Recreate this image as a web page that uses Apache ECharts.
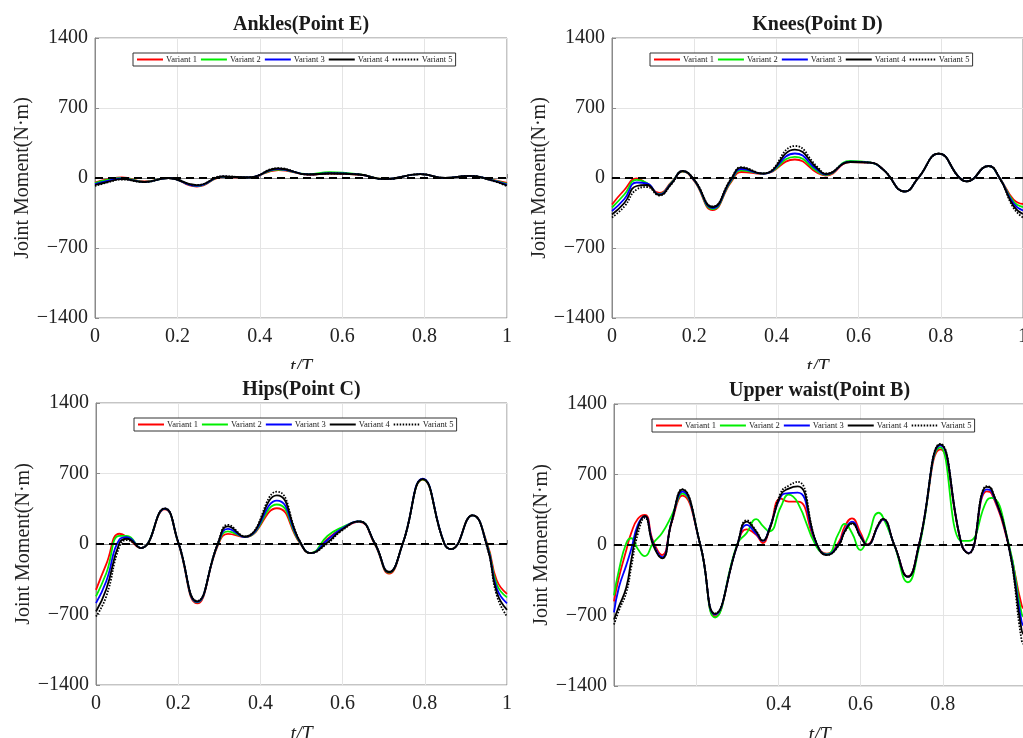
<!DOCTYPE html>
<html>
<head>
<meta charset="utf-8">
<script src="https://cdn.jsdelivr.net/npm/echarts@6/dist/echarts.min.js"></script>
<style>
  html, body { margin: 0; padding: 0; background: #fff; }
  #chart { width: 1023px; height: 738px; }
</style>
</head>
<body>
<div id="chart"></div>
<script>
// tick values shared by all panels
const yTicks = [-1400, -700, 0, 700, 1400]
const xTicks = [0, 0.2, 0.4, 0.6, 0.8, 1]
const variantNames = ['Variant 1', 'Variant 2', 'Variant 3', 'Variant 4', 'Variant 5']
const panelTitles = ['Ankles(Point E)', 'Knees(Point D)', 'Hips(Point C)', 'Upper waist(Point B)']

// Ankles (Point E)
const tAnkle = [0, 0.03, 0.065, 0.12, 0.178, 0.247, 0.311, 0.372, 0.445, 0.518, 0.57, 0.64, 0.704, 0.79, 0.85, 0.91, 0.96, 1]
const ankleV1 = [-45, -15, 5, -35, 0, -85, 10, 5, 80, 35, 45, 35, -12, 38, 0, 22, -15, -50]
const ankleV2 = [-50, -20, 2, -38, 0, -80, 12, 5, 85, 38, 58, 38, -12, 38, 0, 22, -16, -58]
const ankleV3 = [-60, -30, -5, -40, 0, -78, 13, 5, 90, 36, 48, 36, -12, 38, 0, 22, -18, -65]
const ankleV4 = [-70, -40, -12, -40, 0, -72, 15, 5, 95, 35, 45, 35, -12, 38, 0, 22, -20, -75]
const ankleV5 = [-80, -45, -15, -40, 0, -70, 18, 5, 98, 35, 45, 35, -12, 38, 0, 22, -22, -82]

// Knees (Point D)
const tKnee = [0, 0.03, 0.06, 0.085, 0.115, 0.145, 0.172, 0.2, 0.245, 0.29, 0.315, 0.367, 0.445, 0.5, 0.52, 0.58, 0.628, 0.66, 0.713, 0.745, 0.795, 0.846, 0.863, 0.916, 0.943, 0.977, 1]
const kneeV1 = [-265, -120, -5, -60, -150, -40, 65, -30, -320, -40, 60, 43, 185, 50, 25, 160, 153, 84, -135, 0, 243, 0, -33, 120, 0, -215, -260]
const kneeV2 = [-295, -165, -18, -50, -160, -45, 67, -25, -310, -30, 77, 43, 212, 65, 30, 172, 155, 84, -135, 0, 243, 0, -33, 120, 0, -235, -290]
const kneeV3 = [-330, -210, -45, -55, -165, -50, 68, -22, -300, -20, 90, 43, 245, 80, 35, 163, 153, 84, -135, 0, 243, 0, -33, 120, 0, -255, -325]
const kneeV4 = [-365, -250, -80, -70, -170, -55, 70, -18, -290, -10, 103, 43, 283, 95, 40, 160, 153, 84, -135, 0, 243, 0, -33, 120, 0, -280, -360]
const kneeV5 = [-395, -285, -115, -90, -175, -60, 70, -15, -285, -5, 108, 45, 320, 110, 45, 160, 153, 84, -135, 0, 243, 0, -33, 120, 0, -300, -395]

// Hips (Point C)
const tHip = [0, 0.025, 0.057, 0.075, 0.109, 0.167, 0.2, 0.246, 0.297, 0.321, 0.362, 0.44, 0.496, 0.522, 0.563, 0.596, 0.64, 0.678, 0.713, 0.746, 0.795, 0.848, 0.864, 0.916, 0.952, 0.975, 1]
const hipV1 = [-455, -200, 102, 70, -40, 345, 10, -590, -10, 100, 70, 355, 10, -90, 50, 145, 220, 0, -295, 0, 640, 0, -50, 285, 0, -360, -495]
const hipV2 = [-520, -290, 80, 80, -40, 348, 15, -580, 0, 125, 70, 392, 15, -90, 80, 160, 225, 5, -285, 0, 643, 0, -50, 285, -10, -400, -530]
const hipV3 = [-587, -370, 45, 68, -40, 350, 18, -575, 5, 150, 70, 430, 20, -90, 40, 145, 225, 8, -280, 0, 650, 0, -50, 285, -20, -440, -590]
const hipV4 = [-670, -450, 10, 52, -40, 352, 20, -570, 10, 175, 72, 483, 25, -90, 15, 135, 225, 10, -278, 0, 645, 0, -50, 285, -30, -480, -655]
const hipV5 = [-720, -520, -25, 38, -38, 355, 22, -565, 15, 190, 75, 520, 30, -88, 5, 125, 225, 10, -275, 0, 645, 0, -50, 285, -40, -510, -720]

// Upper waist (Point B)
const tWaist = [0, 0.012, 0.03, 0.042, 0.058, 0.075, 0.095, 0.117, 0.14, 0.166, 0.21, 0.246, 0.3, 0.323, 0.346, 0.362, 0.378, 0.406, 0.425, 0.447, 0.493, 0.518, 0.547, 0.561, 0.579, 0.6, 0.616, 0.644, 0.654, 0.682, 0.715, 0.742, 0.794, 0.846, 0.863, 0.907, 0.919, 0.96, 0.992, 1]
const waistV1 = [-560, -320, -50, 120, 260, 300, 40, -100, 220, 490, 0, -710, 0, 155, 100, 20, 150, 460, 430, 430, 0, -85, 30, 180, 265, 120, 5, 200, 250, 0, -310, 0, 950, 0, -80, 533, 510, 0, -600, -640]
const waistV2 = [-500, -250, 20, 67, -40, -110, 17, 120, 290, 510, 0, -720, 10, 120, 257, 190, 135, 380, 500, 420, -20, -90, 120, 210, 120, -50, 60, 320, 280, 0, -370, -30, 970, 40, 40, 440, 467, 20, -685, -720]
const waistV3 = [-670, -420, -200, -40, 200, 285, 20, -120, 230, 530, 0, -690, 0, 200, 110, 40, 165, 480, 515, 520, 10, -95, 10, 140, 233, 90, 0, 200, 255, 0, -315, 0, 990, 0, -80, 553, 530, 0, -767, -810]
const waistV4 = [-740, -610, -420, -150, 170, 290, 0, -133, 230, 550, 0, -683, 0, 233, 133, 43, 150, 500, 560, 583, 15, -100, 0, 130, 217, 80, 0, 210, 260, 0, -317, 0, 1000, 0, -83, 577, 550, 0, -850, -900]
const waistV5 = [-790, -650, -470, -220, 110, 270, 20, -130, 220, 555, 5, -680, 5, 245, 140, 45, 160, 520, 590, 627, 20, -100, -5, 125, 210, 80, 0, 210, 260, 0, -315, 0, 1005, 0, -85, 585, 555, -10, -950, -1000]

const panels = [
  { t: tAnkle, ys: [ankleV1, ankleV2, ankleV3, ankleV4, ankleV5] },
  { t: tKnee, ys: [kneeV1, kneeV2, kneeV3, kneeV4, kneeV5] },
  { t: tHip, ys: [hipV1, hipV2, hipV3, hipV4, hipV5] },
  { t: tWaist, ys: [waistV1, waistV2, waistV3, waistV4, waistV5] }
]

const FONT = 'Liberation Serif'
const variantStyles = [
  { color: '#ff0000', type: 'solid', width: 1.8 },
  { color: '#00ee00', type: 'solid', width: 1.8 },
  { color: '#0000ff', type: 'solid', width: 1.8 },
  { color: '#000000', type: 'solid', width: 1.8 },
  { color: '#000000', type: [1.5, 1.5], width: 1.8 }
]

// plot rectangles of the four panels
const grids = [
  { left: 95, top: 38, width: 412, height: 280 },
  { left: 612, top: 38, width: 411, height: 280 },
  { left: 96, top: 403, width: 411, height: 282 },
  { left: 614, top: 404, width: 411, height: 282 }
]

const fmtY = (v) => (v < 0 ? '\u2212' + Math.abs(v) : String(v))

const option = {
  animation: false,
  backgroundColor: '#fff',
  textStyle: { fontFamily: FONT },
  title: grids.map((g, i) => ({
    text: panelTitles[i],
    left: g.left + g.width / 2,
    top: g.top - 23,
    textAlign: 'center',
    padding: 0,
    textStyle: { fontFamily: FONT, fontSize: 20, fontWeight: 'bold', color: '#1a1a1a' }
  })),
  legend: grids.map((g) => ({
    data: variantNames,
    left: g.left + 38,
    top: g.top + 15,
    orient: 'horizontal',
    selectedMode: false,
    itemWidth: 26,
    itemHeight: 8,
    itemGap: 3,
    padding: [2, 3],
    borderColor: '#333',
    borderWidth: 1,
    backgroundColor: '#fff',
    itemStyle: { opacity: 0 },
    textStyle: { fontFamily: FONT, fontSize: 8.5, color: '#222', padding: [0, 0, 0, -2] }
  })),
  grid: grids.map((g) => ({
    left: g.left,
    top: g.top,
    width: g.width,
    height: g.height,
    outerBoundsMode: 'none',
    show: true,
    borderColor: '#8a8a8a',
    borderWidth: 1,
    backgroundColor: 'transparent'
  })),
  xAxis: grids.map((g, i) => ({
    type: 'value',
    gridIndex: i,
    min: xTicks[0],
    max: xTicks[xTicks.length - 1],
    interval: xTicks[1] - xTicks[0],
    name: 't/T',
    nameLocation: 'middle',
    nameGap: 40,
    nameTextStyle: { fontFamily: FONT, fontSize: 20, fontStyle: 'italic', color: '#222' },
    axisLine: { show: true, lineStyle: { color: '#8a8a8a' } },
    axisTick: { show: true, inside: true, length: 4, lineStyle: { color: '#8a8a8a' } },
    splitLine: { show: true, lineStyle: { color: '#e4e4e4' } },
    axisLabel: {
      margin: 9,
      fontFamily: FONT,
      fontSize: 20,
      color: '#222',
      showMaxLabel: true,
      formatter: (v) => (i === 3 && (v < 0.3 || v > 0.9) ? '' : String(v))
    }
  })),
  yAxis: grids.map((g, i) => ({
    type: 'value',
    gridIndex: i,
    min: yTicks[0],
    max: yTicks[yTicks.length - 1],
    interval: yTicks[1] - yTicks[0],
    name: 'Joint Moment(N\u00b7m)',
    nameLocation: 'middle',
    nameGap: 58,
    nameTextStyle: { fontFamily: FONT, fontSize: 20, color: '#222' },
    axisLine: { show: true, lineStyle: { color: '#8a8a8a' } },
    axisTick: { show: true, inside: true, length: 4, lineStyle: { color: '#8a8a8a' } },
    splitLine: { show: true, lineStyle: { color: '#e4e4e4' } },
    axisLabel: { margin: 7, fontFamily: FONT, fontSize: 20, color: '#222', formatter: fmtY }
  })),
  graphic: [
    // the lower row covers the foot of the upper row's axis names
    { type: 'rect', z: 100, shape: { x: 0, y: 369, width: 1023, height: 10 }, style: { fill: '#fff' } }
  ],
  series: []
}

panels.forEach((p, gi) => {
  p.ys.forEach((ys, vi) => {
    const s = {
      name: variantNames[vi],
      type: 'line',
      xAxisIndex: gi,
      yAxisIndex: gi,
      data: p.t.map((x, k) => [x, ys[k]]),
      smooth: 0.5,
      showSymbol: false,
      symbol: 'none',
      lineStyle: variantStyles[vi],
      itemStyle: { color: variantStyles[vi].color },
      z: 2 + vi
    }
    if (vi === 4) {
      s.markLine = {
        silent: true,
        symbol: 'none',
        label: { show: false },
        lineStyle: { color: '#000', type: [8, 5], width: 1.8 },
        data: [{ yAxis: 0 }]
      }
    }
    option.series.push(s)
  })
})

const chart = echarts.init(document.getElementById('chart'))
chart.setOption(option)
</script>
</body>
</html>
